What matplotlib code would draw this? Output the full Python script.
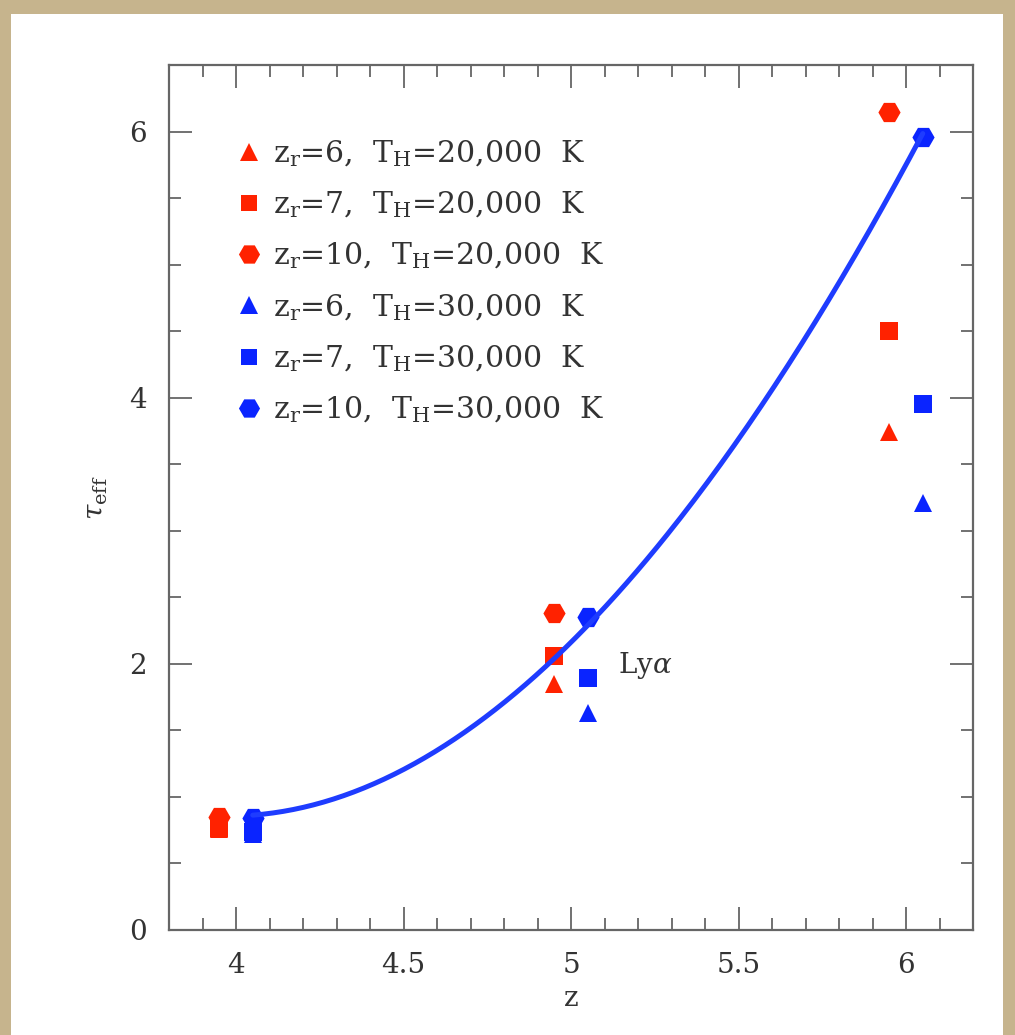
import numpy as np
import matplotlib
matplotlib.use("Agg")
import matplotlib.pyplot as plt
from matplotlib.patches import Rectangle
from matplotlib.lines import Line2D
from matplotlib.ticker import MultipleLocator

plt.rcParams['font.family'] = ['DejaVu Serif']
plt.rcParams['mathtext.fontset'] = 'dejavuserif'
plt.rcParams['mathtext.default'] = 'regular'

# Redshift bins; the two temperature models are offset slightly for clarity
z_bins = np.array([4.0, 5.0, 6.0])
z_offset = 0.05

# Effective Ly-alpha optical depth, T_H = 20,000 K
tau_20k_zr6 = [0.76, 1.85, 3.74]
tau_20k_zr7 = [0.77, 2.06, 4.50]
tau_20k_zr10 = [0.85, 2.38, 6.15]

# Effective Ly-alpha optical depth, T_H = 30,000 K
tau_30k_zr6 = [0.72, 1.63, 3.21]
tau_30k_zr7 = [0.74, 1.89, 3.95]
tau_30k_zr10 = [0.84, 2.35, 5.96]

# Observed tau_eff trend (smooth fit line)
trend_z = [4.05, 4.38, 4.58, 4.73, 4.78, 4.98, 5.09, 5.13, 5.39, 5.59,
           5.69, 5.75, 5.99, 6.05]
trend_tau = [0.835, 1.10, 1.37, 1.56, 1.69, 2.08, 2.31, 2.50, 3.32, 4.01,
             4.43, 4.74, 5.68, 5.96]

labels = [
    r'z$_{\rm r}$=6,  T$_{\rm H}$=20,000  K',
    r'z$_{\rm r}$=7,  T$_{\rm H}$=20,000  K',
    r'z$_{\rm r}$=10,  T$_{\rm H}$=20,000  K',
    r'z$_{\rm r}$=6,  T$_{\rm H}$=30,000  K',
    r'z$_{\rm r}$=7,  T$_{\rm H}$=30,000  K',
    r'z$_{\rm r}$=10,  T$_{\rm H}$=30,000  K',
]

RED = '#ff2200'
BLUE = '#0a24ff'
LINE = '#1e3cff'
SPINE = '#666666'
TEXT = '#333333'

W, H = 1015, 1035
fig = plt.figure(figsize=(W / 100, H / 100), dpi=100)
fig.patch.set_facecolor('#c6b48d')
# white slide panel behind the axes
fig.patches.append(Rectangle((11 / W, 0), (1003 - 11) / W, (H - 14) / H,
                             transform=fig.transFigure, facecolor='white',
                             edgecolor='none', zorder=-10))

ax = fig.add_axes([169 / W, (H - 930) / H, (973 - 169) / W, (930 - 65) / H])
ax.set_facecolor('white')

series = [
    (z_bins - z_offset, tau_20k_zr6, '^', 13.5, RED),
    (z_bins - z_offset, tau_20k_zr7, 's', 12.5, RED),
    (z_bins - z_offset, tau_20k_zr10, 'H', 16, RED),
    (z_bins + z_offset, tau_30k_zr6, '^', 13.5, BLUE),
    (z_bins + z_offset, tau_30k_zr7, 's', 12.5, BLUE),
    (z_bins + z_offset, tau_30k_zr10, 'H', 16, BLUE),
]
handles = []
for (zz, tt, mk, ms, col), lab in zip(series, labels):
    ax.plot(zz, tt, linestyle='none', marker=mk, ms=ms, color=col,
            markeredgewidth=0, zorder=3)
    handles.append(Line2D([], [], linestyle='none', marker=mk,
                          ms=ms * 0.95, color=col, markeredgewidth=0,
                          label=lab))

coef = np.polyfit(trend_z, trend_tau, 3)
zs = np.linspace(trend_z[0], trend_z[-1], 200)
ax.plot(zs, np.polyval(coef, zs), color=LINE, lw=3.6, zorder=4,
        solid_capstyle='round')

ax.text(5.14, 1.99, r'Ly$\mathit{\alpha}$', fontsize=20, color=TEXT,
        ha='left', va='center')

ax.set_xlim(3.8, 6.2)
ax.set_ylim(0, 6.5)
ax.xaxis.set_major_locator(MultipleLocator(0.5))
ax.xaxis.set_minor_locator(MultipleLocator(0.1))
ax.yaxis.set_major_locator(MultipleLocator(2))
ax.yaxis.set_minor_locator(MultipleLocator(0.5))
ax.set_xticks([4, 4.5, 5, 5.5, 6])
ax.set_xticklabels(['4', '4.5', '5', '5.5', '6'])

ax.tick_params(which='both', direction='in', top=True, right=True,
               color=SPINE, labelcolor=TEXT, labelsize=20)
ax.tick_params(which='major', length=16.5, width=1.3, pad=16)
ax.tick_params(which='minor', length=8.5, width=1.3)
for sp in ax.spines.values():
    sp.set_color(SPINE)
    sp.set_linewidth(1.6)

ax.set_xlabel('z', fontsize=20, color=TEXT, labelpad=4)
ax.set_ylabel(r'$\mathit{\tau}_{\rm eff}$', fontsize=20, color=TEXT,
              labelpad=14)

leg = ax.legend(handles=handles, loc='upper left', frameon=False,
                bbox_to_anchor=(0.072, 0.929), fontsize=21.5,
                handlelength=0.7, handletextpad=0.45, labelspacing=0.69,
                borderaxespad=0.0)
for t in leg.get_texts():
    t.set_color(TEXT)

fig.savefig('out.png', dpi=100, facecolor=fig.get_facecolor())
